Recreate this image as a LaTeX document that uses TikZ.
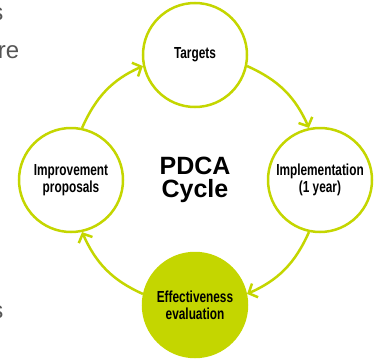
\documentclass[tikz,border=0pt]{standalone}
\usepackage{fontspec}
\setmainfont{Liberation Sans}
\newfontfamily\cnfont[FakeStretch=0.74]{Liberation Sans}
\usetikzlibrary{arrows.meta}
\definecolor{lime}{RGB}{196,214,0}
\definecolor{pagegray}{RGB}{85,85,85}
\tikzset{
  stage/.style={circle, draw=lime, line width=2.5pt, fill=white, minimum size=104pt, inner sep=0pt,
    align=center, font=\cnfont\bfseries\fontsize{16}{17}\selectfont},
  cutoff/.style={anchor=base east, inner sep=0pt, text=pagegray, font=\fontsize{24}{24}\selectfont},
}
\begin{document}
\begin{tikzpicture}[x=1pt,y=1pt,>={Straight Barb[length=7pt,width=15pt]}]
\useasboundingbox (0,0) rectangle (375,-359);
% words of the page text, cut off at the left edge
\node[cutoff] (s1) at (3.5,-20) {s};
\node[cutoff] (s2) at (19.5,-58) {re};
\node[cutoff] (s3) at (3.5,-318) {s};

\node[font=\bfseries\fontsize{25}{23}\selectfont, align=center] (pdca) at (195,-180) {PDCA\\Cycle};
\node[stage] (top) at (195,-55) {Targets};
\node[stage] (right) at (320,-180) {Implementation\\(1 year)};
\node[stage, fill=lime] (bottom) at (195,-305) {Effectiveness\\evaluation};
\node[stage] (left) at (71,-180) {Improvement\\proposals};

\foreach \a/\b/\p in {left/top/180, top/right/90, right/bottom/0, bottom/left/-90}
{
    \pgfmathtruncatemacro\s{\p-102}
    \pgfmathtruncatemacro\e{\p+12}
    \draw[->, lime, line width=2.5pt](\a.\s) to[out=\p-114, in=\p+24] (\b.\e);
}
\end{tikzpicture}
\end{document}
